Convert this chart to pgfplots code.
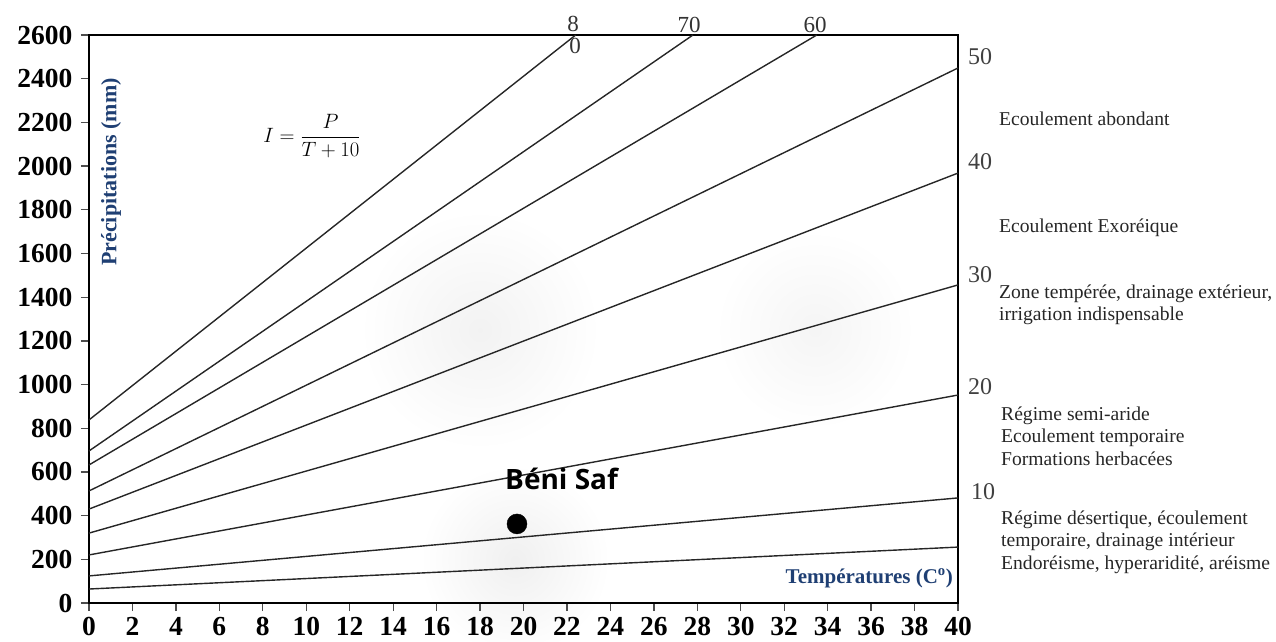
\documentclass[border=0pt]{standalone}
\usepackage{fontspec}
\setmainfont{Liberation Serif}
\newfontfamily\osans{Open Sans}
\usepackage{pgfplots}
\pgfplotsset{compat=1.18}
\definecolor{lblblue}{HTML}{1F3F73}
\begin{document}
\begin{tikzpicture}[x=1pt,y=1pt]
\path[use as bounding box] (0,0) rectangle (1276,641);
% soft grey blotches of the scan
\shade[inner color=black!5, outer color=white] (480,311) circle (120);
\shade[inner color=black!4, outer color=white] (815,311) circle (100);
\shade[inner color=black!6, outer color=white] (515,81) circle (95);
\begin{axis}[
  at={(89pt,38pt)}, anchor=south west,
  scale only axis, width=869pt, height=568pt,
  xmin=0, xmax=40, ymin=0, ymax=2600,
  xtick={0,2,...,40}, ytick={0,200,...,2600},
  tick align=outside, tick pos=left, major tick length=8pt,
  axis line style={line width=2.5pt},
  every tick/.style={line width=1.3pt, black!70},
  ticklabel style={font=\fontsize{27.5}{27.5}\selectfont\bfseries},
  xticklabel style={inner sep=3pt, yshift=-3pt},
  yticklabel style={xshift=-5pt},
  /pgf/number format/assume math mode=true,
  /pgf/number format/1000 sep={},
  clip=false,
]
\addplot[black!85, line width=1.4pt] coordinates {(0,64) (40,256)};
\addplot[black!85, line width=1.4pt] coordinates {(0,124) (40,481)};
\addplot[black!85, line width=1.4pt] coordinates {(0,220) (40,952)};
\addplot[black!85, line width=1.4pt] coordinates {(0,320) (40,1456)};
\addplot[black!85, line width=1.4pt] coordinates {(0,430) (40,1968)};
\addplot[black!85, line width=1.4pt] coordinates {(0,513) (40,2449)};
\addplot[black!85, line width=1.4pt] coordinates {(0,632) (33.5,2600)};
\addplot[black!85, line width=1.4pt] coordinates {(0,696) (27.8,2600)};
\addplot[black!85, line width=1.4pt] coordinates {(0,838) (22.4,2600)};
\addplot[only marks, mark=*, mark size=10pt, black] coordinates {(19.7,362)};
\end{axis}
% top labels
\begin{scope}[every node/.style={inner sep=0pt, font=\fontsize{23}{23}\selectfont, text=black!80}]
\node at (573,617) {8};
\node at (575,595) {0};
\node at (689,616) {70};
\node at (815,616) {60};
\end{scope}
% right index labels
\begin{scope}[every node/.style={font=\fontsize{24}{24}\selectfont, text=black!75}]
\node at (980,584) {50};
\node at (980,479) {40};
\node at (980,366) {30};
\node at (980,254) {20};
\node at (983,149) {10};
\end{scope}
% right descriptions
\begin{scope}[every node/.style={anchor=west, align=left, inner sep=0pt, text=black!85, font=\fontsize{19.6}{22.5}\selectfont}]
\node at (999,522) {Ecoulement abondant};
\node at (999,413) {Ecoulement Exoréique};
\node at (999,336) {Zone tempérée, drainage extérieur,\\irrigation indispensable};
\node at (1001,205) {Régime semi-aride\\Ecoulement temporaire\\Formations herbacées};
\node at (1001,99) {Régime désertique, écoulement\\temporaire, drainage intérieur\\Endoréisme, hyperaridité, aréisme};
\end{scope}
% formula
\node[font=\fontsize{21}{24}\selectfont] at (312,505) {$\displaystyle I=\frac{P}{T+10}$};
% axis titles
\node[rotate=90, font=\fontsize{22}{22}\selectfont\bfseries, text=lblblue] at (111,469) {Précipitations (mm)};
\node[anchor=east, inner sep=0pt, font=\fontsize{21}{21}\selectfont\bfseries, text=lblblue] at (953,63) {Températures (C\textsuperscript{o})};
% station
\node[anchor=west, inner sep=0pt, font=\fontsize{28}{28}\selectfont\osans\bfseries] at (505,162) {Béni Saf};
\end{tikzpicture}
\end{document}
